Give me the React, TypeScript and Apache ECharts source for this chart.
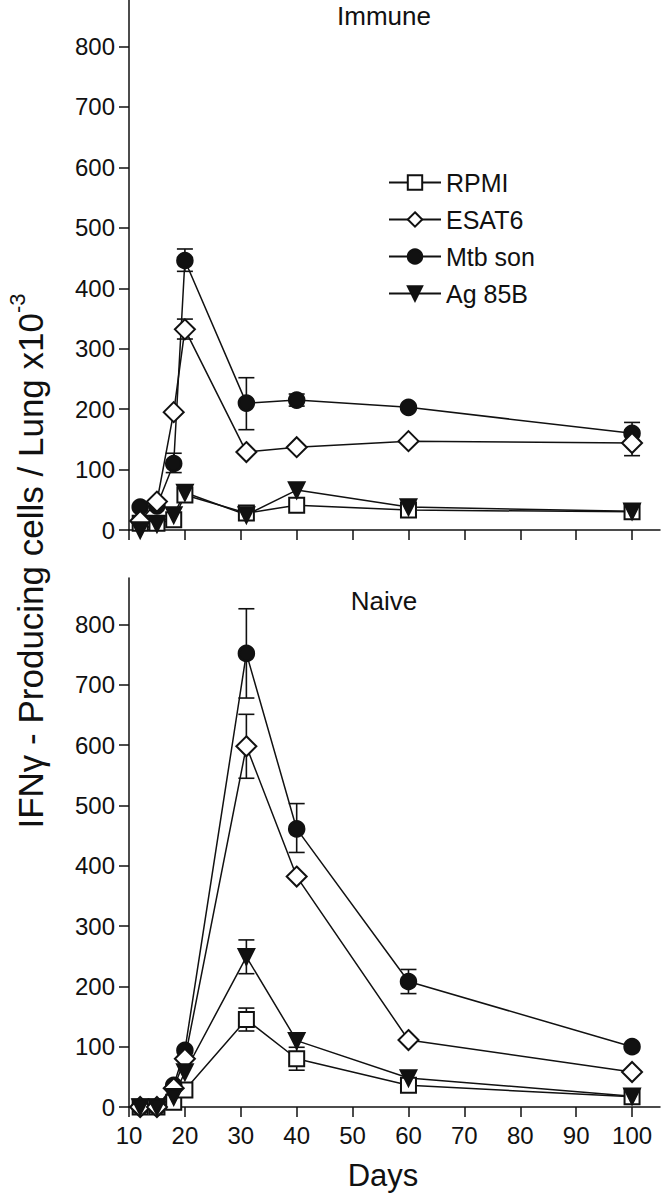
import React, { useEffect, useRef } from "react";
import * as echarts from "echarts";

const days = [12, 15, 18, 20, 31, 40, 60, 100];
const xTicks = [10, 20, 30, 40, 50, 60, 70, 80, 90, 100];
const yTicks = [0, 100, 200, 300, 400, 500, 600, 700, 800];

const immuneRPMI = [11, 11, 17, 58, 28, 41, 33, 30];
const immuneESAT6 = [15, 47, 195, 332, 129, 137, 147, 144];
const immuneMtb = [38, 40, 110, 446, 210, 215, 203, 160];
const immuneAg85B = [0, 10, 25, 62, 25, 66, 38, 31];

const naiveRPMI = [0, 0, 8, 28, 145, 80, 36, 17];
const naiveESAT6 = [0, 0, 31, 80, 598, 382, 111, 58];
const naiveMtb = [0, 0, 36, 94, 752, 461, 208, 100];
const naiveAg85B = [0, 0, 17, 58, 249, 110, 48, 18];

// [day, low, high]
const immuneErr = [
  [18, 95, 127],
  [20, 428, 465],
  [31, 166, 252],
  [40, 205, 225],
  [100, 142, 178],
  [20, 316, 349],
  [100, 123, 165],
];
const naiveErr = [
  [31, 678, 826],
  [40, 422, 503],
  [60, 188, 228],
  [31, 545, 651],
  [31, 221, 277],
  [31, 126, 164],
  [40, 61, 99],
];

const seriesNames = ["RPMI", "ESAT6", "Mtb son", "Ag 85B"];

const FONT = "'Liberation Sans', Arial, sans-serif";
const INK = "#111";

function pair(vals: number[]) {
  return days.map((d, i) => [d, vals[i]]);
}

export default function App() {
  const ref = useRef<HTMLDivElement>(null);
  useEffect(() => {
    if (!ref.current) return;
    const chart = echarts.init(ref.current, null, { renderer: "svg" });

    const mk = (name: string, vals: number[], idx: number) => {
      const base: any = {
        name,
        type: "line",
        xAxisIndex: idx,
        yAxisIndex: idx,
        data: pair(vals),
        z: 3,
        lineStyle: { color: INK, width: 1.5 },
        itemStyle: { color: INK, borderColor: INK, borderWidth: 2.5 },
      };
      if (name === "RPMI") {
        base.symbol = "emptyRect";
        base.symbolSize = 15;
      } else if (name === "ESAT6") {
        base.symbol = "emptyDiamond";
        base.symbolSize = 20;
      } else if (name === "Mtb son") {
        base.symbol = "circle";
        base.symbolSize = 15;
      } else {
        base.symbol = "triangle";
        base.symbolSize = 15;
        base.symbolRotate = 180;
      }
      return base;
    };

    const errSeries = (data: number[][], idx: number) => ({
      type: "custom",
      xAxisIndex: idx,
      yAxisIndex: idx,
      z: 1,
      data,
      renderItem: (params: any, api: any) => {
        const x = api.value(0);
        const lo = api.coord([x, api.value(1)]);
        const hi = api.coord([x, api.value(2)]);
        const w = 8;
        const st = { stroke: INK, lineWidth: 1.6 };
        return {
          type: "group",
          children: [
            { type: "line", shape: { x1: lo[0], y1: lo[1], x2: hi[0], y2: hi[1] }, style: st },
            { type: "line", shape: { x1: lo[0] - w, y1: lo[1], x2: lo[0] + w, y2: lo[1] }, style: st },
            { type: "line", shape: { x1: hi[0] - w, y1: hi[1], x2: hi[0] + w, y2: hi[1] }, style: st },
          ],
        };
      },
    });

    const xAxisBase = (idx: number, showLabel: boolean) => ({
      type: "value",
      gridIndex: idx,
      min: 10,
      max: 105,
      splitLine: { show: false },
      axisLine: { lineStyle: { color: INK, width: 1.5 } },
      axisTick: { show: true, length: 10, lineStyle: { color: INK, width: 1.5 }, customValues: xTicks },
      axisLabel: {
        show: showLabel,
        customValues: xTicks,
        margin: 16,
        fontSize: 24,
        color: INK,
        fontFamily: FONT,
      },
    });
    const yAxisBase = (idx: number) => ({
      type: "value",
      gridIndex: idx,
      min: 0,
      max: 877,
      splitLine: { show: false },
      axisLine: { show: true, lineStyle: { color: INK, width: 1.5 } },
      axisTick: { show: true, length: 10, lineStyle: { color: INK, width: 1.5 }, customValues: yTicks },
      axisLabel: { customValues: yTicks, margin: 14, fontSize: 24, color: INK, fontFamily: FONT },
    });

    chart.setOption({
      animation: false,
      backgroundColor: "#fff",
      grid: [
        { left: 129, top: 0, width: 531, height: 530 },
        { left: 129, top: 578, width: 531, height: 529 },
      ],
      xAxis: [xAxisBase(0, false), xAxisBase(1, true)],
      yAxis: [yAxisBase(0), yAxisBase(1)],
      legend: {
        data: seriesNames,
        orient: "vertical",
        left: 383,
        top: 165,
        itemWidth: 52,
        itemHeight: 18,
        itemGap: 12,
        selectedMode: false,
        textStyle: { fontSize: 25, color: INK, fontFamily: FONT },
      },
      graphic: [
        {
          type: "text",
          x: 384,
          y: 16,
          style: {
            text: "Immune",
            fontSize: 26,
            fill: INK,
            fontFamily: FONT,
            align: "center",
            verticalAlign: "middle",
          },
        },
        {
          type: "text",
          x: 384,
          y: 601,
          style: {
            text: "Naive",
            fontSize: 26,
            fill: INK,
            fontFamily: FONT,
            align: "center",
            verticalAlign: "middle",
          },
        },
        {
          type: "text",
          x: 383,
          y: 1175,
          style: {
            text: "Days",
            fontSize: 31,
            fill: INK,
            fontFamily: FONT,
            align: "center",
            verticalAlign: "middle",
          },
        },
        {
          type: "text",
          x: 27,
          y: 561,
          rotation: Math.PI / 2,
          style: {
            text: "{a|IFNγ - Producing cells / Lung x10}{s|-3}",
            align: "center",
            verticalAlign: "middle",
            fill: INK,
            rich: {
              a: { fontSize: 35, fontFamily: FONT, fill: INK, verticalAlign: "bottom", lineHeight: 42 },
              s: { fontSize: 22, fontFamily: FONT, fill: INK, verticalAlign: "top", lineHeight: 42 },
            },
          },
        },
      ],
      series: [
        mk("RPMI", immuneRPMI, 0),
        mk("Mtb son", immuneMtb, 0),
        mk("ESAT6", immuneESAT6, 0),
        mk("Ag 85B", immuneAg85B, 0),
        errSeries(immuneErr, 0),
        mk("RPMI", naiveRPMI, 1),
        mk("Mtb son", naiveMtb, 1),
        mk("ESAT6", naiveESAT6, 1),
        mk("Ag 85B", naiveAg85B, 1),
        errSeries(naiveErr, 1),
      ],
    });
    return () => chart.dispose();
  }, []);
  return (
    <div
      ref={ref}
      style={{ position: "absolute", left: 0, top: 0, width: 661, height: 1199, background: "#fff" }}
    />
  );
}
